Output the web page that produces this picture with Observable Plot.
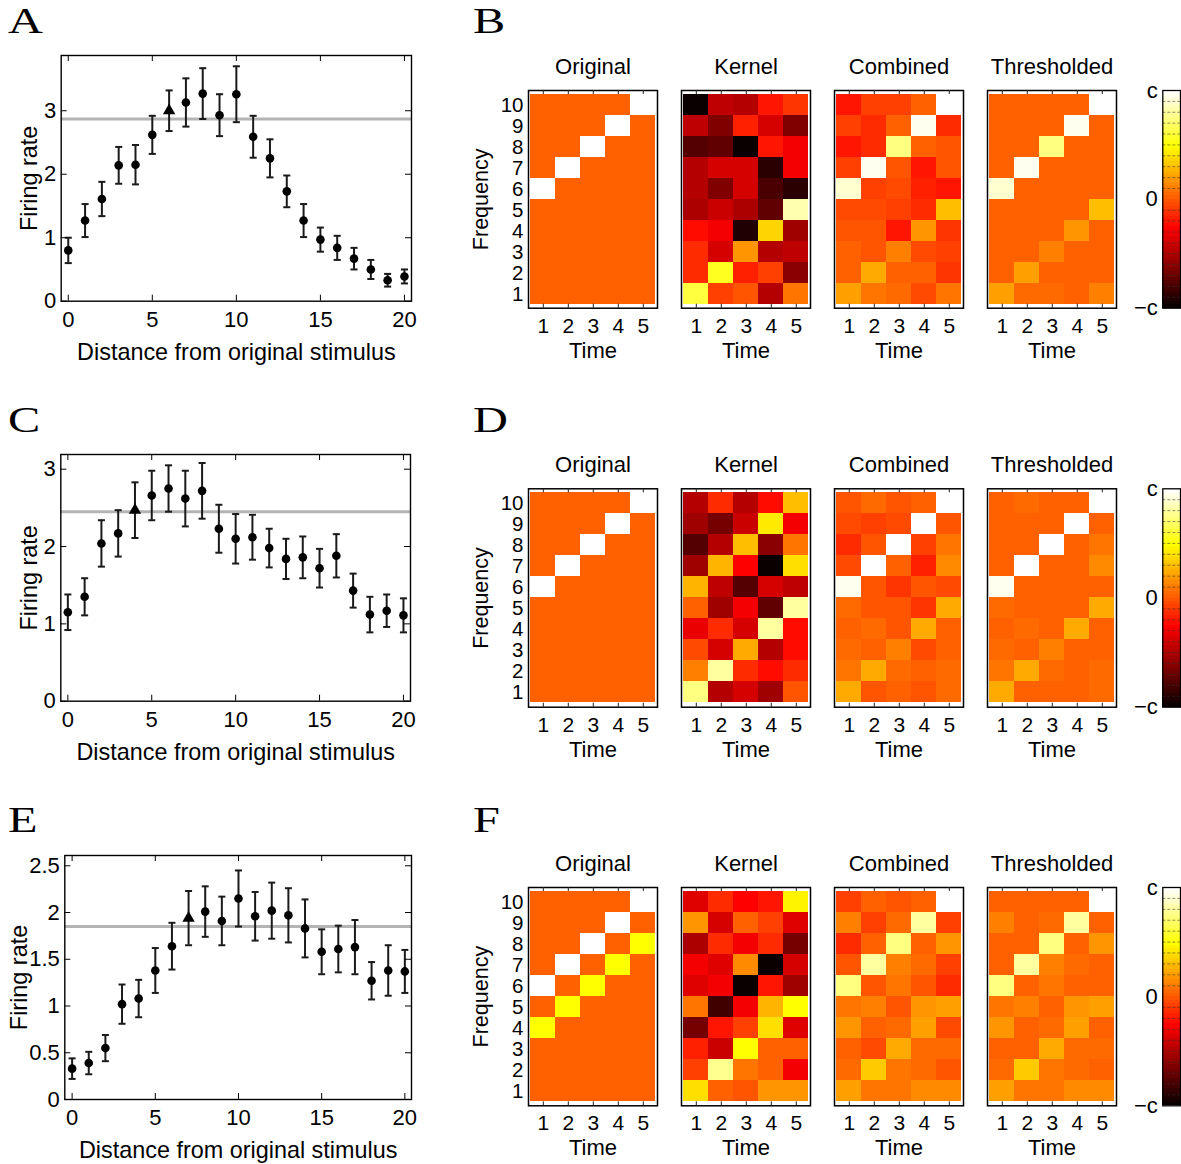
<!DOCTYPE html>
<html><head><meta charset="utf-8">
<script src="https://cdn.jsdelivr.net/npm/d3@7"></script>
<script src="https://cdn.jsdelivr.net/npm/@observablehq/plot@0.6"></script>
<style>
html,body{margin:0;padding:0;background:#fff;overflow:hidden;}
#root{position:relative;width:1181px;height:1164px;font-family:"Liberation Sans",Arial,sans-serif;}
.piece{position:absolute;}
#letters{position:absolute;left:0;top:0;pointer-events:none;}
</style></head><body><div id="root"></div>
<script>
// ---------- data: tuning curves ----------
const distance = [0,1,2,3,4,5,6,7,8,9,10,11,12,13,14,15,16,17,18,19,20];
const distTicks = [0,5,10,15,20];

const A_rate = [0.80,1.27,1.61,2.14,2.15,2.62,3.00,3.13,3.27,2.93,3.26,2.59,2.25,1.73,1.27,0.97,0.84,0.67,0.50,0.33,0.39];
const A_err  = [0.20,0.26,0.27,0.29,0.31,0.30,0.32,0.38,0.40,0.33,0.44,0.33,0.30,0.25,0.26,0.19,0.19,0.17,0.15,0.10,0.11];
const A_peak = 6, A_base = 2.87, A_yTicks = [0,1,2,3];

const C_rate = [1.15,1.35,2.04,2.17,2.47,2.66,2.75,2.62,2.72,2.23,2.10,2.12,1.98,1.84,1.86,1.72,1.88,1.43,1.12,1.17,1.11];
const C_err  = [0.23,0.24,0.30,0.30,0.36,0.32,0.30,0.36,0.36,0.31,0.32,0.29,0.25,0.26,0.27,0.25,0.28,0.22,0.23,0.21,0.22];
const C_peak = 4, C_base = 2.45, C_yTicks = [0,1,2,3];

const E_rate = [0.33,0.39,0.55,1.02,1.08,1.38,1.64,1.94,2.01,1.91,2.15,1.96,2.02,1.97,1.83,1.58,1.61,1.63,1.27,1.38,1.37];
const E_err  = [0.11,0.12,0.14,0.21,0.20,0.24,0.25,0.29,0.27,0.26,0.30,0.26,0.30,0.29,0.31,0.24,0.25,0.29,0.20,0.27,0.23];
const E_peak = 7, E_base = 1.85, E_yTicks = [0,0.5,1,1.5,2,2.5];

// ---------- data: spectro-temporal maps (rows: frequency 10 -> 1, columns: time 1..5), values in [-c, c] scaled to [-1, 1] ----------
const panels = ["Original","Kernel","Combined","Thresholded"];
const times = [1,2,3,4,5];
const freqs = [10,9,8,7,6,5,4,3,2,1];

const B_original = [
 [0,0,0,0,1],[0,0,0,1,0],[0,0,1,0,0],[0,1,0,0,0],[1,0,0,0,0],
 [0,0,0,0,0],[0,0,0,0,0],[0,0,0,0,0],[0,0,0,0,0],[0,0,0,0,0]];
const B_kernel = [
 [-0.99,-0.45,-0.50,-0.19,-0.12],
 [-0.45,-0.64,-0.17,-0.38,-0.64],
 [-0.78,-0.72,-1.00,-0.20,-0.29],
 [-0.48,-0.38,-0.38,-0.90,-0.31],
 [-0.50,-0.64,-0.38,-0.80,-0.89],
 [-0.52,-0.43,-0.52,-0.73, 0.83],
 [-0.22,-0.31,-0.92, 0.37,-0.55],
 [-0.13,-0.38, 0.16,-0.50,-0.45],
 [-0.13, 0.55,-0.17,-0.08,-0.61],
 [ 0.61,-0.08,-0.03,-0.48, 0.08]];
const B_combined = [
 [-0.19,-0.07,-0.08, 0.02, 1.00],
 [-0.08,-0.13, 0.02, 0.95,-0.15],
 [-0.19,-0.14, 0.73, 0.02,-0.01],
 [-0.08, 0.95,-0.03,-0.20,-0.01],
 [ 0.88,-0.09,-0.04,-0.17,-0.21],
 [-0.06,-0.06,-0.08,-0.14, 0.30],
 [-0.01,-0.01,-0.20, 0.17,-0.10],
 [ 0.02,-0.03, 0.11,-0.06,-0.08],
 [ 0.03, 0.23, 0.03, 0.02,-0.10],
 [ 0.20, 0.08, 0.06,-0.06, 0.08]];
const B_thresholded = [
 [0,0,0,0,1.00],
 [0,0,0,0.95,0],
 [0,0,0.73,0,0],
 [0,0.95,0,0,0],
 [0.88,0,0,0,0],
 [0,0,0,0,0.30],
 [0,0,0,0.17,0],
 [0,0,0.11,0,0],
 [0,0.20,0,0,0],
 [0.20,0.06,0.06,0.03,0.11]];

const D_original = [
 [0,0,0,0,1],[0,0,0,1,0],[0,0,1,0,0],[0,1,0,0,0],[1,0,0,0,0],
 [0,0,0,0,0],[0,0,0,0,0],[0,0,0,0,0],[0,0,0,0,0],[0,0,0,0,0]];
const D_kernel = [
 [-0.50,-0.13,-0.50,-0.22, 0.30],
 [-0.55,-0.66,-0.43, 0.41,-0.31],
 [-0.78,-0.48, 0.30,-0.62, 0.08],
 [-0.55, 0.25,-0.27,-0.99, 0.39],
 [ 0.27,-0.45,-0.76,-0.38,-0.45],
 [ 0.02,-0.55,-0.31,-0.72, 0.80],
 [-0.33,-0.15,-0.38, 0.79,-0.22],
 [-0.06,-0.40, 0.23,-0.50,-0.24],
 [ 0.11, 0.80,-0.13,-0.24,-0.13],
 [ 0.73,-0.50,-0.40,-0.55,-0.03]];
const D_combined = [
 [-0.03, 0.06,-0.03, 0.02, 1.00],
 [-0.04,-0.07,-0.04, 1.00,-0.01],
 [-0.13,-0.03, 1.00,-0.08, 0.08],
 [-0.04, 1.00, 0.03,-0.17, 0.13],
 [ 0.95,-0.01,-0.12,-0.01,-0.06],
 [ 0.06,-0.01,-0.01,-0.10, 0.23],
 [ 0.02, 0.06,-0.01, 0.23, 0.02],
 [ 0.06, 0.02, 0.12,-0.06, 0.03],
 [ 0.08, 0.23, 0.06, 0.03, 0.06],
 [ 0.23,-0.01, 0.02,-0.03, 0.06]];
const D_thresholded = [
 [0,0.06,0,0.02,1.00],
 [0,0,0,1.00,0],
 [0,0,1.00,0,0.08],
 [0,1.00,0.03,0,0.13],
 [0.95,0,0,0,0],
 [0.06,0,0,0,0.23],
 [0.02,0.06,0,0.23,0.02],
 [0.06,0.02,0.12,0,0.03],
 [0.08,0.23,0.06,0.03,0.06],
 [0.23,0,0.02,0,0.06]];

const F_original = [
 [0,0,0,0,1],[0,0,0,1,0],[0,0,1,0,0.48],[0,1,0,0.48,0],[1,0,0.48,0,0],
 [0,0.48,0,0,0],[0.48,0,0,0,0],[0,0,0,0,0],[0,0,0,0,0],[0,0,0,0,0]];
const F_kernel = [
 [-0.36,-0.15,-0.27,-0.21, 0.44],
 [ 0.17,-0.40, 0.03,-0.08,-0.36],
 [-0.52,-0.13,-0.29,-0.13,-0.66],
 [-0.31,-0.36, 0.13,-0.99,-0.38],
 [-0.36,-0.31,-0.99,-0.21,-0.55],
 [ 0.07,-0.82,-0.29, 0.25, 0.48],
 [-0.66,-0.21,-0.08, 0.38,-0.36],
 [-0.17,-0.43, 0.48, 0.02, 0.02],
 [-0.08, 0.75, 0.08, 0.03,-0.29],
 [ 0.39, 0.02,-0.01, 0.16, 0.17]];
const F_combined = [
 [-0.08, 0.03,-0.03, 0.02, 1.00],
 [ 0.11,-0.07, 0.06, 0.80,-0.07],
 [-0.14, 0.03, 0.72, 0.03, 0.17],
 [-0.03, 0.79, 0.11, 0.06,-0.07],
 [ 0.73,-0.01, 0.07,-0.01,-0.14],
 [ 0.08, 0.11,-0.03, 0.16, 0.20],
 [ 0.17, 0.02, 0.04, 0.21,-0.06],
 [ 0.02,-0.06, 0.23, 0.06, 0.06],
 [ 0.06, 0.32, 0.09, 0.06,-0.02],
 [ 0.20, 0.08, 0.08, 0.13, 0.13]];
const F_thresholded = [
 [0,0.03,0,0.02,1.00],
 [0.11,0,0.06,0.80,0],
 [0,0.03,0.72,0.03,0.17],
 [0,0.79,0.11,0.06,0],
 [0.73,0,0.07,0,0],
 [0.08,0.11,0,0.16,0.20],
 [0.17,0.02,0.04,0.21,0],
 [0.02,0,0.23,0.06,0.06],
 [0.06,0.32,0.09,0.06,0],
 [0.20,0.08,0.08,0.13,0.13]];

// colour bar
const cbLevels = d3.range(64).map(i => -1 + i * 2 / 64);
const cbDashes = [-0.9,-0.8,-0.7,-0.6,-0.5,-0.4,-0.3,-0.2,-0.1,0.1,0.2,0.3,0.4,0.5,0.6,0.7,0.8,0.9];
const cbTicks = [-1, 0, 1];
const cbLabels = {"-1": "\u2212c", "0": "0", "1": "c"};

// ---------- MATLAB "hot" colormap (64 levels) ----------
function hot(t) {
  const i = Math.max(1, Math.min(64, Math.floor(t * 64) + 1));
  const cl = v => Math.max(0, Math.min(1, v));
  const r = cl(i / 24), g = cl((i - 24) / 24), b = cl((i - 48) / 16);
  return `rgb(${Math.round(r*255)},${Math.round(g*255)},${Math.round(b*255)})`;
}
const colorScale = {type: "linear", domain: [-1, 1], interpolate: hot, clamp: true};

const FONT = "'Liberation Sans', Arial, Helvetica, sans-serif";
const style = {fontFamily: FONT, fontSize: "22px", background: "transparent", color: "black", overflow: "visible"};

const root = document.getElementById("root");
function place(node, left, top) {
  const d = document.createElement("div");
  d.className = "piece";
  d.style.left = left + "px";
  d.style.top = top + "px";
  d.appendChild(node);
  root.appendChild(d);
}

function linePlot(o) {
  const data = distance.map((x, i) => ({x, y: o.rate[i], e: o.err[i]}));
  const fw = o.width - o.ml - o.mr, fh = o.height - o.mt - o.mb;
  const ink = "#1a1a1a";
  return Plot.plot({
    width: o.width, height: o.height,
    marginLeft: o.ml, marginRight: o.mr, marginTop: o.mt, marginBottom: o.mb,
    style,
    x: {domain: o.xDomain},
    y: {domain: o.yDomain},
    marks: [
      Plot.ruleY([o.base], {y: d => d, stroke: "#b4b4b4", strokeWidth: 3}),
      Plot.ruleX(data, {x: "x", y1: d => d.y - d.e, y2: d => d.y + d.e, stroke: ink, strokeWidth: 2}),
      Plot.link(data, {x1: d => d.x - 0.21, x2: d => d.x + 0.21, y1: d => d.y - d.e, y2: d => d.y - d.e, stroke: ink, strokeWidth: 2}),
      Plot.link(data, {x1: d => d.x - 0.21, x2: d => d.x + 0.21, y1: d => d.y + d.e, y2: d => d.y + d.e, stroke: ink, strokeWidth: 2}),
      Plot.dot(data.filter(d => d.x !== o.peak), {x: "x", y: "y", r: 4.3, fill: "black", stroke: "none"}),
      Plot.dot(data.filter(d => d.x === o.peak), {x: "x", y: "y", r: 4.6, symbol: "triangle", fill: "black", stroke: "none"}),
      Plot.frame({stroke: "black", strokeWidth: 1.4}),
      Plot.ruleX(distTicks, {x: d => d, insetTop: fh - 6, stroke: "black", strokeWidth: 1}),
      Plot.ruleX(distTicks, {x: d => d, insetBottom: fh - 6, stroke: "black", strokeWidth: 1}),
      Plot.ruleY(o.yTicks, {y: d => d, insetRight: fw - 6, stroke: "black", strokeWidth: 1}),
      Plot.ruleY(o.yTicks, {y: d => d, insetLeft: fw - 6, stroke: "black", strokeWidth: 1}),
      Plot.axisX({ticks: distTicks, tickSize: 0, tickPadding: 10, label: null, tickFormat: d => String(d)}),
      Plot.axisY({ticks: o.yTicks, tickSize: 0, tickPadding: 5, label: null, tickFormat: d => String(d)}),
      Plot.text(["Distance from original stimulus"], {frameAnchor: "bottom", dy: 51, lineAnchor: "middle", textAnchor: "middle", fontSize: 23.4, text: d => d}),
      Plot.text(["Firing rate"], {frameAnchor: "left", dx: o.labelDx, rotate: -90, lineAnchor: "middle", textAnchor: "middle", fontSize: 23.4, text: d => d})
    ]
  });
}

function heatPlot(mats, mt, mb) {
  const data = [];
  panels.forEach((p, k) => mats[k].forEach((row, r) => row.forEach((v, c) =>
    data.push({panel: p, time: times[c], freq: freqs[r], value: v}))));
  const width = 720, height = 330, ml = 86.7, mr = 43.5;
  const fh = height - mt - mb;
  return Plot.plot({
    width, height, marginLeft: ml, marginRight: mr, marginTop: mt, marginBottom: mb,
    style,
    fx: {domain: panels, paddingInner: 0.16, paddingOuter: 0, axis: null},
    x: {domain: times, padding: 0},
    y: {domain: freqs, padding: 0},
    color: colorScale,
    marks: [
      Plot.cell(data, {fx: "panel", x: "time", y: "freq", fill: "value", inset: 0, shapeRendering: "crispEdges"}),
      Plot.frame({stroke: "black", strokeWidth: 1.5}),
      Plot.ruleX(times, {x: d => d, insetTop: fh - 4, stroke: "#222", strokeWidth: 1}),
      Plot.ruleX(times, {x: d => d, insetBottom: fh - 4, stroke: "#222", strokeWidth: 1}),
      Plot.axisX({tickSize: 0, tickPadding: 9.5, label: null, fontSize: 21}),
      Plot.axisY({tickSize: 0, tickPadding: 5, label: null, fontSize: 20.5}),
      Plot.text(["Time"], {frameAnchor: "bottom", dy: 42.5, lineAnchor: "middle", textAnchor: "middle", text: d => d}),
      Plot.text(panels, {fx: d => d, frameAnchor: "top", dy: -24, lineAnchor: "middle", textAnchor: "middle", text: d => d}),
      Plot.text(["Frequency"], {fx: () => "Original", frameAnchor: "left", dx: -47, rotate: -90, lineAnchor: "middle", textAnchor: "middle", fontSize: 21.5, text: d => d})
    ]
  });
}

function colorBar(mt, mb) {
  return Plot.plot({
    width: 61, height: 330, marginLeft: 42.3, marginRight: 1, marginTop: mt, marginBottom: mb,
    style,
    x: {domain: [0, 1], axis: null},
    y: {domain: [-1, 1]},
    color: colorScale,
    marks: [
      Plot.rect(cbLevels, {x1: 0, x2: 1, y1: d => d, y2: d => d + 2 / 64, fill: d => d + 1 / 64, shapeRendering: "crispEdges"}),
      Plot.ruleY(cbDashes, {y: d => d, stroke: "#333", strokeOpacity: 0.55, strokeDasharray: "3,2", strokeWidth: 1}),
      Plot.frame({stroke: "black", strokeWidth: 1.3}),
      Plot.axisY({ticks: cbTicks, tickSize: 0, tickPadding: 5, label: null, tickFormat: d => cbLabels[String(d)]})
    ]
  });
}

place(linePlot({rate: A_rate, err: A_err, peak: A_peak, base: A_base, yTicks: A_yTicks,
  width: 420, height: 340, ml: 60.7, mr: 9, mt: 15, mb: 79.3, xDomain: [-0.42, 20.42], yDomain: [0, 3.87], labelDx: -32}), 0, 40);
place(linePlot({rate: C_rate, err: C_err, peak: C_peak, base: C_base, yTicks: C_yTicks,
  width: 420, height: 340, ml: 60.3, mr: 10, mt: 14, mb: 79.3, xDomain: [-0.42, 20.42], yDomain: [0, 3.19], labelDx: -31}), 0, 440);
place(linePlot({rate: E_rate, err: E_err, peak: E_peak, base: E_base, yTicks: E_yTicks,
  width: 420, height: 340, ml: 64.3, mr: 9, mt: 15, mb: 81, xDomain: [-0.44, 20.4], yDomain: [0, 2.61], labelDx: -45}), 0, 840);

place(heatPlot([B_original, B_kernel, B_combined, B_thresholded], 50, 62.3), 440, 40);
place(heatPlot([D_original, D_kernel, D_combined, D_thresholded], 48.3, 63.3), 440, 440);
place(heatPlot([F_original, F_kernel, F_combined, F_thresholded], 47, 64.7), 440, 840);

place(colorBar(50, 62.3), 1120, 40);
place(colorBar(48.3, 63.3), 1120, 440);
place(colorBar(47, 64.7), 1120, 840);

// panel letters
const letters = [["A", 8, 33], ["B", 473, 33], ["C", 8, 432], ["D", 473, 432], ["E", 8, 832], ["F", 473, 832]];
const ns = "http://www.w3.org/2000/svg";
const svg = document.createElementNS(ns, "svg");
svg.setAttribute("id", "letters");
svg.setAttribute("width", 1181);
svg.setAttribute("height", 1164);
for (const [t, x, y] of letters) {
  const el = document.createElementNS(ns, "text");
  el.setAttribute("transform", `translate(${x},${y}) scale(1.38,1)`);
  el.setAttribute("font-family", "'Liberation Serif', 'DejaVu Serif', serif");
  el.setAttribute("font-size", "35");
  el.textContent = t;
  svg.appendChild(el);
}
root.appendChild(svg);
</script></body></html>
